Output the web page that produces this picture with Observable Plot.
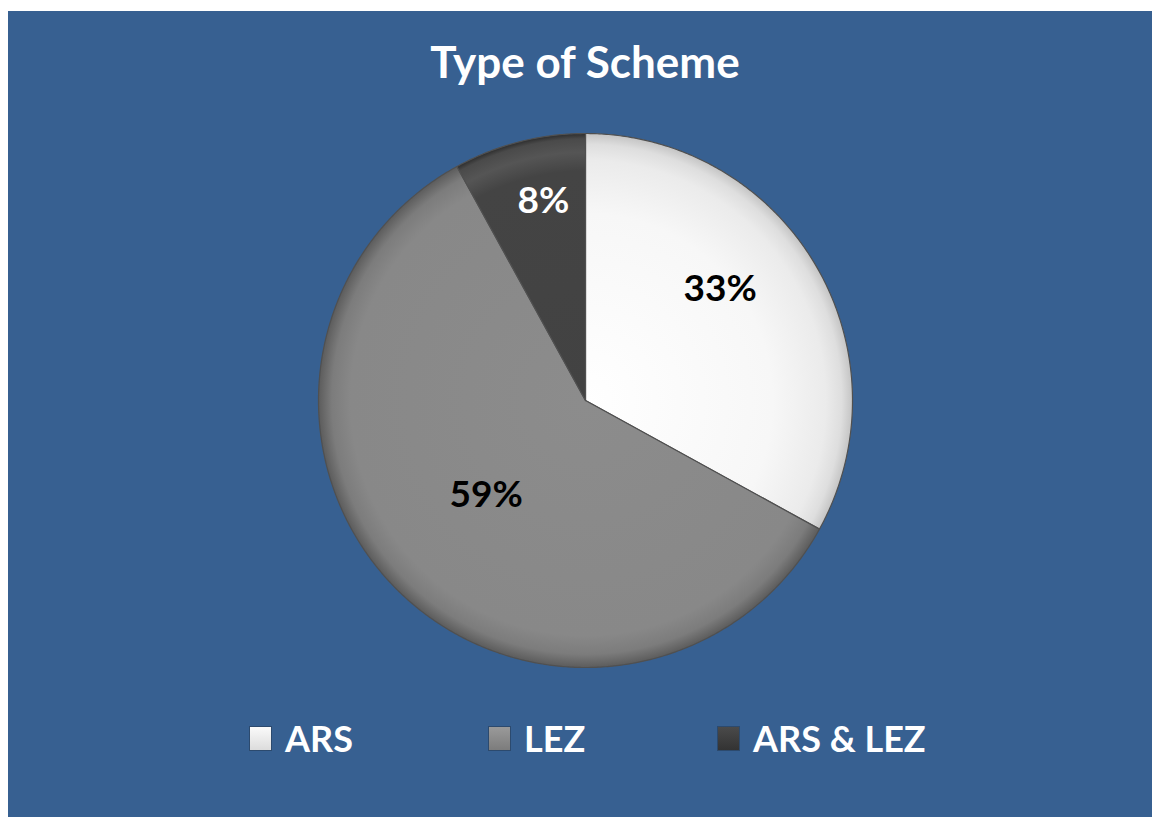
<!DOCTYPE html>
<html><head><meta charset="utf-8">
<script src="https://cdn.jsdelivr.net/npm/d3@7"></script>
<script src="https://cdn.jsdelivr.net/npm/@observablehq/plot@0.6"></script>
<style>
body{margin:0;background:#fff;width:1152px;height:817px;overflow:hidden;font-family:Lato,"Open Sans",sans-serif;}
#panel{position:absolute;left:8px;top:11px;width:1144px;height:806px;background:#376091;overflow:hidden;}
#title{position:absolute;left:0;top:24px;width:1154px;text-align:center;color:#fff;font-weight:700;font-size:44px;line-height:52px;}
#chart{position:absolute;left:0;top:100px;}
#legend{position:absolute;left:0;top:712px;width:1144px;height:30px;}
.item{position:absolute;top:0;display:flex;align-items:center;color:#fff;font-weight:700;font-size:36px;line-height:30px;}
.sw{width:23px;height:25px;margin-right:13px;border:1px solid #2c4a6e;box-sizing:border-box;}
</style></head>
<body>
<div id="panel">
  <div id="title"></div>
  <div id="chart"></div>
  <div id="legend"></div>
</div>
<script>
// ---- data ----
const title = "Type of Scheme";
const categories = ["ARS", "LEZ", "ARS & LEZ"];
const shares = [33, 59, 8];
const labels = ["33%", "59%", "8%"];

// ---- style / layout ----
const fills = ["url(#gARS)", "url(#gLEZ)", "url(#gBOTH)"];
const swatches = [
  "linear-gradient(#fafafa,#dcdcdc)",
  "linear-gradient(#9a9a9a,#7c7c7c)",
  "linear-gradient(#4a4a4a,#333)"
];
const labelColors = ["#000", "#000", "#fff"];
const labelRadius = [0.66, 0.5, 0.77];
const labelShift = [[-17, -22], [-5, 0], [9, 0]];
const legendLeft = [241, 480, 709];
const R = 267;
const W = 1144, H = 580, CX = 577, CY = 289;

document.getElementById("title").textContent = title;

// slice geometry (angles clockwise from 12 o'clock)
const total = d3.sum(shares);
const pts = [];
const lab = [];
let acc = 0;
categories.forEach((c, i) => {
  const a0 = acc / total * 2 * Math.PI;
  acc += shares[i];
  const a1 = acc / total * 2 * Math.PI;
  pts.push({k: c, i, x: 0, y: 0});
  const n = Math.max(2, Math.ceil((a1 - a0) / (Math.PI / 360)));
  for (let j = 0; j <= n; j++) {
    const a = a0 + (a1 - a0) * j / n;
    pts.push({k: c, i, x: R * Math.sin(a), y: R * Math.cos(a)});
  }
  pts.push({k: c, i, x: 0, y: 0});
  const am = (a0 + a1) / 2;
  lab.push({k: c, text: labels[i], color: labelColors[i],
    x: R * labelRadius[i] * Math.sin(am) + labelShift[i][0],
    y: R * labelRadius[i] * Math.cos(am) - labelShift[i][1]});
});

const svg = Plot.plot({
  width: W, height: H,
  margin: 0,
  style: {background: "transparent", overflow: "visible"},
  x: {domain: [-CX, W - CX], range: [0, W], axis: null},
  y: {domain: [-(H - CY), CY], range: [H, 0], axis: null},
  marks: [
    ...categories.map((c, i) => Plot.line(pts.filter(d => d.i === i), {
      x: "x", y: "y", fill: fills[i], stroke: "#505050", strokeWidth: 1.2,
      strokeLinejoin: "round", curve: "linear"
    })),
    Plot.text(lab, {x: "x", y: "y", text: "text", fill: "color",
      fontSize: 37, fontWeight: 700, fontFamily: "Lato, 'Open Sans', sans-serif"})
  ]
});

const defs = d3.select(svg).insert("defs", ":first-child");
function radial(id, stops) {
  const g = defs.append("radialGradient").attr("id", id)
    .attr("gradientUnits", "userSpaceOnUse")
    .attr("cx", CX).attr("cy", CY).attr("r", R);
  stops.forEach(([o, c]) => g.append("stop").attr("offset", o).attr("stop-color", c));
}
radial("gARS", [[0, "#ffffff"], [0.7, "#f7f7f7"], [0.9, "#ebebeb"], [0.96, "#dedede"], [1, "#c4c4c4"]]);
radial("gLEZ", [[0, "#8c8c8c"], [0.88, "#888888"], [0.95, "#7c7c7c"], [1, "#5c5c5c"]]);
radial("gBOTH", [[0, "#424242"], [0.86, "#444444"], [0.93, "#555555"], [0.98, "#4a4a4a"], [1, "#2e2e2e"]]);

document.getElementById("chart").appendChild(svg);

const legend = document.getElementById("legend");
categories.forEach((c, i) => {
  const it = document.createElement("div");
  it.className = "item";
  it.style.left = legendLeft[i] + "px";
  const sw = document.createElement("div");
  sw.className = "sw";
  sw.style.background = swatches[i];
  const t = document.createElement("span");
  t.textContent = c;
  it.appendChild(sw); it.appendChild(t);
  legend.appendChild(it);
});
</script>
</body></html>
